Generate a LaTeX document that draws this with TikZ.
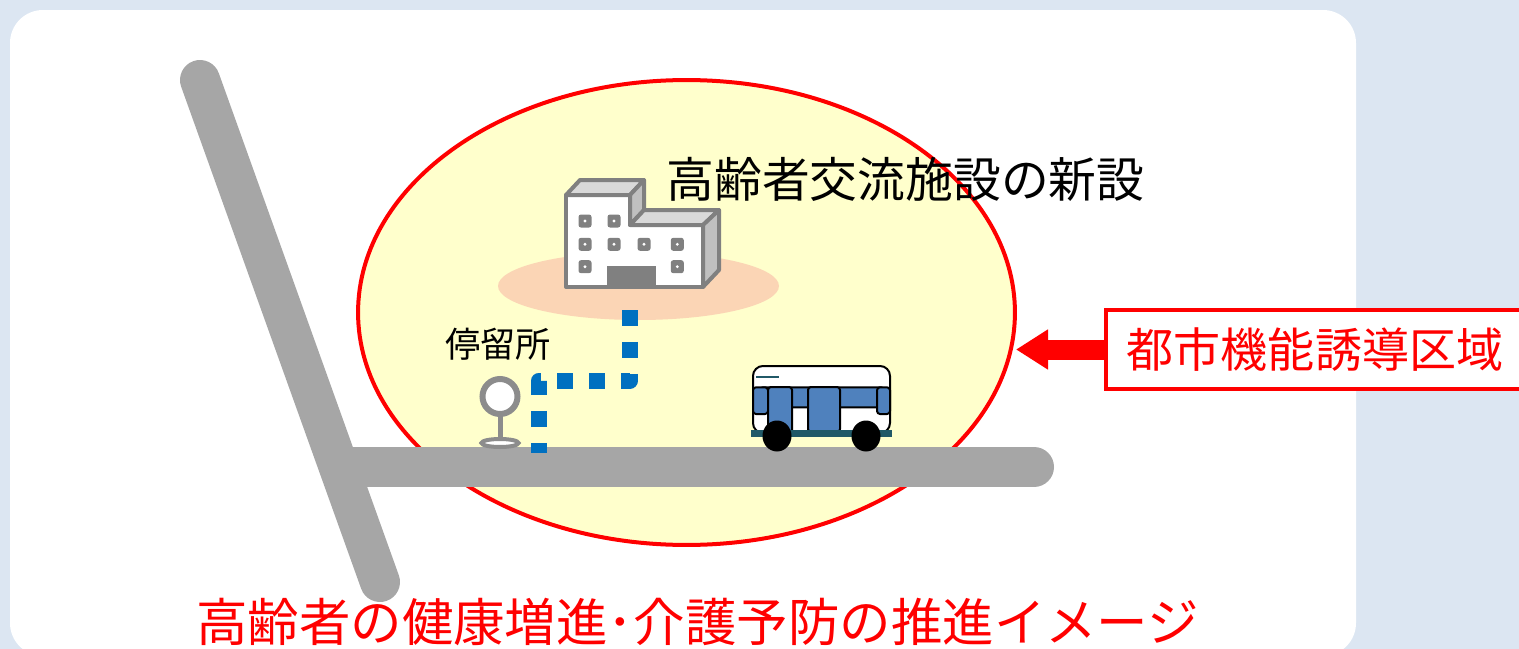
\documentclass[tikz,border=0pt]{standalone}
\usepackage{fontspec}
\newfontfamily\jp{Noto Sans CJK JP}
\usetikzlibrary{shapes.geometric,arrows.meta}
\definecolor{bgblue}{HTML}{DCE6F2}
\definecolor{roadgray}{HTML}{A6A6A6}
\definecolor{zonefill}{HTML}{FFFFCC}
\definecolor{plaza}{HTML}{FBD5B5}
\definecolor{walkblue}{HTML}{0070C0}
\definecolor{bldgray}{HTML}{808080}
\definecolor{bldtop}{HTML}{D9D9D9}
\definecolor{bldside}{HTML}{C0C0C0}
\definecolor{busblue}{HTML}{4F81BD}
\definecolor{busteal}{HTML}{215967}
\definecolor{stopgray}{HTML}{8C8C8C}
\begin{document}
\begin{tikzpicture}[x=0.02cm,y=-0.02cm,
  road/.style={line width=0.8cm, line cap=round, draw=roadgray},
  zone/.style={ellipse, draw=red, fill=zonefill, line width=0.08cm},
  walk/.style={line width=0.32cm, dash pattern=on 0.32cm off 0.32cm, line join=round, draw=walkblue},
  bld/.style={draw=bldgray, line width=0.08cm, line join=round},
  win/.style={fill=bldgray, rounded corners=0.05cm},
  bus/.style={draw=black, line width=0.04cm},
  buswin/.style={bus, fill=busblue, rounded corners=0.06cm},
  label/.style={font=\jp, inner sep=0pt},
  areabox/.style={draw=red, fill=white, line width=0.08cm, minimum width=8.36cm, minimum height=1.58cm, inner sep=0pt},
  pointer/.style={draw=red, line width=0.4cm, -{Triangle[length=0.64cm, width=0.76cm]}}]

\useasboundingbox (0,0) rectangle (1519,649);
\fill[bgblue] (0,0) rectangle (1519,649);
\fill[white, rounded corners=0.66cm] (10,10) rectangle (1356,656);

% urban function zone
\node[zone, minimum width=13.14cm, minimum height=9.3cm] (zone) at (686.5,312.5) {};

% plaza under the facility
\fill[plaza] (638.5,286) ellipse [x radius=140.5, y radius=34];

% facility building
\filldraw[bld, fill=white] (566,195) -- (630,195) -- (630,225) -- (703,225) -- (703,287) -- (566,287) -- cycle;
\filldraw[bld, fill=bldtop] (566,195) -- (580,180) -- (644,180) -- (630,195) -- cycle;
\filldraw[bld, fill=bldside] (630,195) -- (644,180) -- (644,210) -- (630,225) -- cycle;
\filldraw[bld, fill=bldtop] (630,225) -- (644,210) -- (719,210) -- (703,225) -- cycle;
\filldraw[bld, fill=bldside] (703,225) -- (719,210) -- (719,270) -- (703,287) -- cycle;
\foreach \wx/\wy in {585/221, 614/221, 585/244.3, 614/244.3, 644/244.3, 677.3/244.3, 585/266.7, 677.3/266.7} {
  \fill[win] (\wx-6.5,\wy-6.5) rectangle (\wx+6.5,\wy+6.5);
  \fill[white] (\wx,\wy) circle [radius=1.6];
}
\fill[bldgray] (607.3,266) rectangle (656,287);

% roads
\draw[road] (200,80) -- (380,582);
\draw[road] (345,467) -- (1034,467);

% walking route from the stop to the facility
\coordinate (walkstart) at (630,310);
\coordinate (walkend) at (539,453);
\draw[walk] (walkstart) -- (630,380.5) -- (539,380.5) -- (walkend);

% bus stop sign
\draw[stopgray, line width=0.1cm] (500,413) -- (500,440);
\filldraw[draw=stopgray, fill=white, line width=0.08cm] (500,443) ellipse [x radius=18.5, y radius=4];
\filldraw[draw=stopgray, fill=white, line width=0.12cm] (500,396.5) circle [radius=17.5];

% bus
\filldraw[bus, fill=white, rounded corners=0.2cm] (753,433) rectangle (890,366);
\draw[busteal, line width=0.04cm] (756,377) -- (779,377);
\filldraw[buswin] (760,387.3) rectangle (884,407.3);
\filldraw[buswin] (753,387.3) rectangle (768,414);
\filldraw[buswin] (877,387.3) rectangle (890,414);
\filldraw[buswin] (768,387) rectangle (792,433);
\filldraw[buswin] (808,387) rectangle (840,432);
\fill[busteal] (751,430) rectangle (892,437);
\fill[black] (777,436) ellipse [x radius=14.5, y radius=15.5];
\fill[black] (866,436) ellipse [x radius=14.5, y radius=15.5];

% labels
\node[label, font=\jp\fontsize{27.2}{30}\selectfont] (facility) at (905.5,179) {高齢者交流施設の新設};
\node[label, font=\jp\fontsize{20}{24}\selectfont] (stop) at (498,344) {停留所};

% zone call-out
\node[areabox, label, font=\jp\fontsize{26.8}{30}\selectfont, text=red] (areaname) at (1315,349.5) {都市機能誘導区域};
\coordinate (tip) at (1016,349.5);
\draw[pointer] (areaname.west) -- (tip);

% caption
\node[label, font=\jp\fontsize{29.3}{32}\selectfont, text=red] (caption) at (697.5,622) {高齢者の健康増進･介護予防の推進イメージ};
\end{tikzpicture}
\end{document}
